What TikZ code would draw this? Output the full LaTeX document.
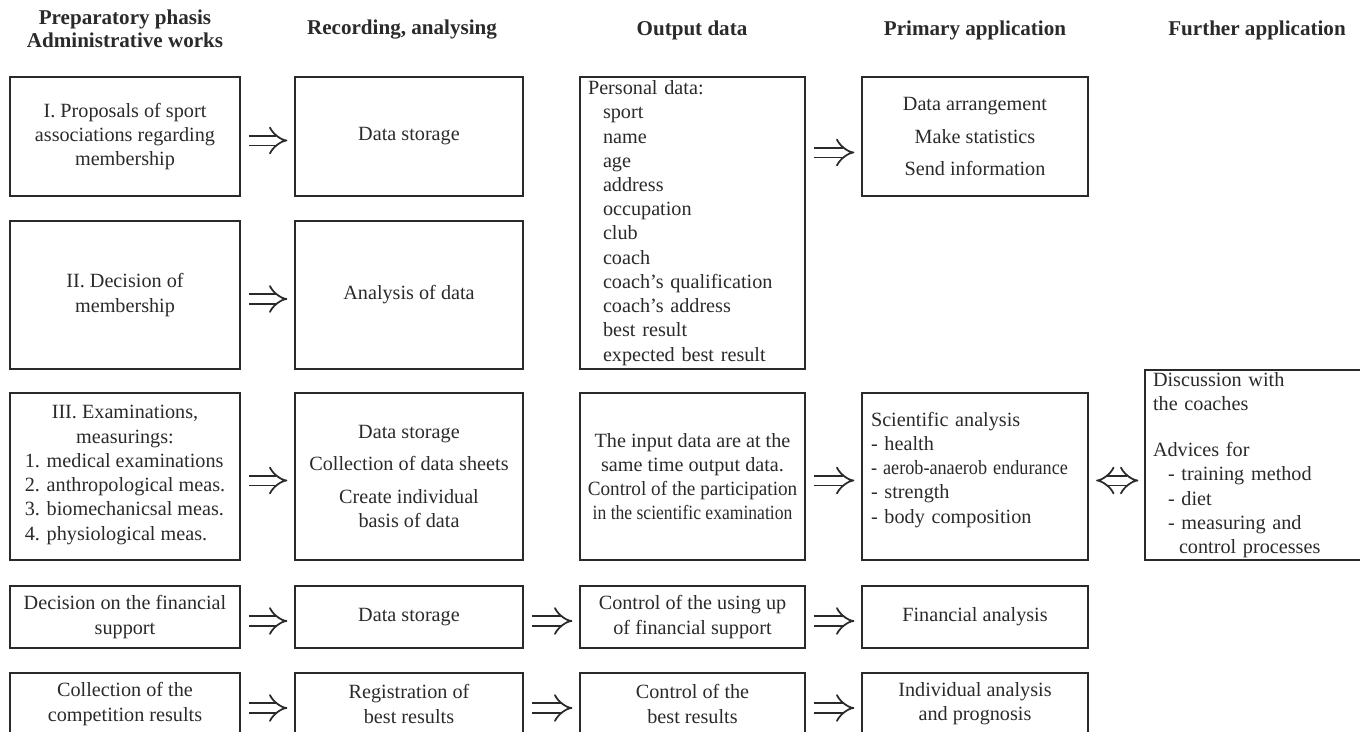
\documentclass[tikz,border=0pt]{standalone}
\usepackage{fontspec}
\usepackage{graphicx}
\setmainfont{Liberation Serif}
\usetikzlibrary{arrows.meta}
\definecolor{ink}{HTML}{2A2A2A}

\begin{document}
\begin{tikzpicture}[x=0.02cm, y=-0.02cm, font=\fontsize{11.5}{13.8}\selectfont, color=ink]
	\tikzstyle{headStyle}=[align=center, font=\fontsize{12}{13}\selectfont\bfseries]
	\tikzstyle{boxStyle}=[draw, line width=0.7pt, inner sep=0pt, align=center]
	\tikzstyle{listStyle}=[boxStyle, align=left, inner xsep=0.16cm]
	\tikzstyle{implyStyle}=[double, double distance=1.6mm, line width=1pt, -{Implies[length=2.6mm, width=5mm]}, shorten <=1.6mm, shorten >=1.4mm, transform canvas={yshift=-0.8mm}]
	\useasboundingbox (0,0) rectangle (1360,731);
	\clip (0,0) rectangle (1360,731);
	% column heads
	\node[headStyle] (hPrep) at (125,29) {Preparatory phasis\\Administrative works};
	\node[headStyle] (hRec) at (402,30) {Recording, analysing};
	\node[headStyle] (hOut) at (692,30) {Output data};
	\node[headStyle] (hPrim) at (975,30) {Primary application};
	\node[headStyle] (hFur) at (1257,30) {Further application};
	% preparatory phasis
	\node[boxStyle, minimum width=4.6cm, minimum height=2.38cm] (prop) at (125,136.5) {I. Proposals of sport\\associations regarding\\membership};
	\node[boxStyle, minimum width=4.6cm, minimum height=2.96cm] (decis) at (125,295) {II. Decision of\\membership};
	\node[boxStyle, minimum width=4.6cm, minimum height=3.34cm] (exam) at (125,476.5) {III. Examinations,\\measurings:\\{\begin{tabular}[t]{@{}l@{}}1. medical examinations\\2. anthropological meas.\\3. biomechanicsal meas.\\4. physiological meas.\end{tabular}}};
	\node[boxStyle, minimum width=4.6cm, minimum height=1.24cm] (finDec) at (125,617) {Decision on the financial\\support};
	\node[boxStyle, minimum width=4.6cm, minimum height=1.24cm] (compRes) at (125,704) {Collection of the\\competition results};
	% recording, analysing
	\node[boxStyle, minimum width=4.56cm, minimum height=2.38cm] (store1) at (409,136.5) {Data storage};
	\node[boxStyle, minimum width=4.56cm, minimum height=2.96cm] (analys) at (409,295) {Analysis of data};
	\node[boxStyle, minimum width=4.56cm, minimum height=3.34cm] (store3) at (409,476.5) {Data storage\\[1.7mm]Collection of data sheets\\[1.7mm]Create individual\\basis of data};
	\node[boxStyle, minimum width=4.56cm, minimum height=1.24cm] (store4) at (409,617) {Data storage};
	\node[boxStyle, minimum width=4.56cm, minimum height=1.24cm] (regBest) at (409,704) {Registration of\\best results};
	% output data
	\node[listStyle, text width=4.18cm, minimum height=5.84cm] (pers) at (692.5,223) {Personal data:\\\hspace*{3mm}sport\\\hspace*{3mm}name\\\hspace*{3mm}age\\\hspace*{3mm}address\\\hspace*{3mm}occupation\\\hspace*{3mm}club\\\hspace*{3mm}coach\\\hspace*{3mm}coach's qualification\\\hspace*{3mm}coach's address\\\hspace*{3mm}best result\\\hspace*{3mm}expected best result};
	\node[boxStyle, minimum width=4.5cm, minimum height=3.34cm] (inputOut) at (692.5,476.5) {The input data are at the\\same time output data.\\\scalebox{0.95}[1]{Control of the participation}\\\scalebox{0.87}[1]{in the scientific examination}};
	\node[boxStyle, minimum width=4.5cm, minimum height=1.24cm] (ctrlFin) at (692.5,617) {Control of the using up\\of financial support};
	\node[boxStyle, minimum width=4.5cm, minimum height=1.24cm] (ctrlBest) at (692.5,704) {Control of the\\best results};
	% primary application
	\node[boxStyle, minimum width=4.52cm, minimum height=2.38cm] (dataArr) at (975,136.5) {Data arrangement\\[1.7mm]Make statistics\\[1.7mm]Send information};
	\node[listStyle, inner xsep=0.18cm, text width=4.16cm, minimum height=3.34cm] (sciAn) at (975,476.5) {Scientific analysis\\- health\\\scalebox{0.9}[1]{- aerob-anaerob endurance}\\- strength\\- body composition\\[-0.13cm]\mbox{}};
	\node[boxStyle, minimum width=4.52cm, minimum height=1.24cm] (finAn) at (975,617) {Financial analysis};
	\node[boxStyle, minimum width=4.52cm, minimum height=1.24cm] (indAn) at (975,704) {Individual analysis\\and prognosis};
	% further application
	\node[listStyle, text width=4.28cm, minimum height=3.8cm] (advice) at (1260,465) {Discussion with\\the coaches\\[4.4mm]Advices for\\\hspace*{3mm}- training method\\\hspace*{3mm}- diet\\\hspace*{3mm}- measuring and\\\hspace*{5.2mm}control processes};
	% arrows
	\draw[implyStyle] (prop) -- (store1);
	\draw[implyStyle] (decis) -- (analys);
	\draw[implyStyle] (exam) -- (store3);
	\draw[implyStyle] (finDec) -- (store4);
	\draw[implyStyle] (compRes) -- (regBest);
	\draw[implyStyle] ([yshift=-2.4mm]pers.east |- dataArr.west) -- ([yshift=-2.4mm]dataArr.west);
	\draw[implyStyle] (inputOut) -- (sciAn);
	\draw[implyStyle] (store4) -- (ctrlFin);
	\draw[implyStyle] (regBest) -- (ctrlBest);
	\draw[implyStyle] (ctrlFin) -- (finAn);
	\draw[implyStyle] (ctrlBest) -- (indAn);
	\draw[implyStyle, {Implies[length=1.8mm, width=4.6mm]}-{Implies[length=1.8mm, width=4.6mm]}, shorten <=1.5mm, shorten >=1.2mm] (sciAn.east |- inputOut.east) -- (inputOut.east -| advice.west);
\end{tikzpicture}
\end{document}
